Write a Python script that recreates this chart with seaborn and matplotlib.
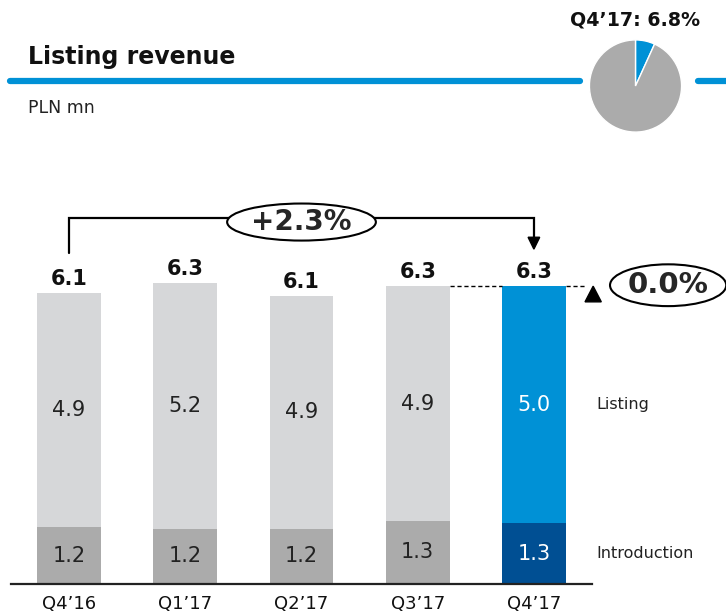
import matplotlib
matplotlib.use("Agg")
import matplotlib.pyplot as plt
import seaborn as sns
import pandas as pd
from matplotlib.patches import Ellipse, Polygon

# ---- data ----
quarters = ["Q4’16", "Q1’17", "Q2’17", "Q3’17", "Q4’17"]
introduction = [1.20, 1.16, 1.16, 1.33, 1.28]
listing = [4.92, 5.18, 4.91, 4.94, 4.99]
yoy_change = "+2.3%"
qoq_change = "0.0%"
pie_share = [6.8, 93.2]
pie_label = "Q4’17: 6.8%"

totals = [a + b for a, b in zip(introduction, listing)]

LIGHT = "#D6D7D9"
DARK = "#ABABAB"
BLUE = "#0091D6"
NAVY = "#004F93"
top_colors = [LIGHT, LIGHT, LIGHT, LIGHT, BLUE]
bot_colors = [DARK, DARK, DARK, DARK, NAVY]

sns.set_theme(style="white")
plt.rcParams["font.family"] = ["DejaVu Sans"]

W, H = 726, 613
fig = plt.figure(figsize=(W / 100, H / 100), dpi=100)

def fx(px):
    return px / W

def fy(py):
    return 1 - py / H

# main axes: x from px 11 to 592, baseline at py 584, 0..8 spanning 380 px
ax = fig.add_axes([fx(11), fy(584), fx(592) - fx(11), 380 / H])

df = pd.DataFrame({"quarter": quarters, "total": totals, "intro": introduction})
sns.barplot(data=df, x="quarter", y="total", hue="quarter", palette=top_colors,
            width=0.55, legend=False, ax=ax, saturation=1, edgecolor="none")
sns.barplot(data=df, x="quarter", y="intro", hue="quarter", palette=bot_colors,
            width=0.55, legend=False, ax=ax, saturation=1, edgecolor="none")

ax.set_ylim(0, 8)
ax.set_xlim(-0.5, 4.5)
ax.set_xlabel("")
ax.set_ylabel("")
ax.set_yticks([])
for s in ["top", "right", "left"]:
    ax.spines[s].set_visible(False)
ax.spines["bottom"].set_color("#222222")
ax.spines["bottom"].set_linewidth(1.6)
ax.tick_params(axis="x", length=0, pad=8, labelsize=13, labelcolor="#111111")
ax.set_xticks(range(len(quarters)))
ax.set_xticklabels(quarters)

for i in range(len(quarters)):
    seg_color = "white" if i == 4 else "#222222"
    ax.text(i, introduction[i] + listing[i] / 2, f"{listing[i]:.1f}", ha="center",
            va="center", fontsize=15, color=seg_color)
    ax.text(i, introduction[i] / 2, f"{introduction[i]:.1f}", ha="center",
            va="center", fontsize=15, color=seg_color)
    ax.annotate(f"{totals[i]:.1f}", (i, totals[i]), xytext=(0, 3),
                textcoords="offset points", ha="center", va="bottom",
                fontsize=15, fontweight="bold", color="#111111")

# side labels
ax.text(4.54, introduction[4] + listing[4] / 2, "Listing", ha="left", va="center",
        fontsize=11.5, color="#222222", clip_on=False)
ax.text(4.54, introduction[4] / 2, "Introduction", ha="left", va="center",
        fontsize=11.5, color="#222222", clip_on=False)

# bracket with +2.3%
yb = 7.7
ax.plot([0, 0, 4, 4], [6.97, yb, yb, 7.25], color="black", lw=1.6,
        clip_on=False, solid_joinstyle="miter")
ax.add_patch(Polygon([[3.95, 7.30], [4.05, 7.30], [4.0, 7.05]], closed=True,
                     color="black", clip_on=False))
ax.add_patch(Ellipse((2.0, 7.62), 1.28, 0.78, facecolor="white",
                     edgecolor="black", lw=1.5, clip_on=False, zorder=5))
ax.text(2.0, 7.62, yoy_change, ha="center", va="center", fontsize=20,
        fontweight="bold", zorder=6, clip_on=False)

# dashed q/q reference
ax.plot([3.275, 3.725], [totals[3], totals[3]], color="black", lw=1,
        ls=(0, (3, 2)), clip_on=False)
ax.plot([4.275, 4.44], [totals[4], totals[4]], color="black", lw=1,
        ls=(0, (3, 2)), clip_on=False)
ax.add_patch(Polygon([[4.44, totals[4] - 0.33], [4.58, totals[4] - 0.33],
                      [4.51, totals[4]]], closed=True,
                     color="black", clip_on=False))
ax.add_patch(Ellipse((5.155, 6.29), 1.0, 0.88, facecolor="white",
                     edgecolor="black", lw=1.5, clip_on=False, zorder=5))
ax.text(5.155, 6.29, qoq_change, ha="center", va="center", fontsize=21,
        fontweight="bold", zorder=6, clip_on=False)

# header
fig.text(fx(28), fy(57), "Listing revenue", ha="left", va="center",
         fontsize=17, fontweight="bold", color="#111111")
fig.text(fx(28), fy(108), "PLN mn", ha="left", va="center", fontsize=12.5,
         color="#222222")
fig.add_artist(plt.Line2D([fx(10), fx(580)], [fy(81), fy(81)], color=BLUE, lw=4.5))
fig.add_artist(plt.Line2D([fx(698), fx(726)], [fy(81), fy(81)], color=BLUE, lw=4.5))

# pie
size = 94
pax = fig.add_axes([fx(635.5 - size / 2), fy(86 + size / 2), size / W, size / H])
pax.pie(pie_share, colors=[BLUE, "#ABABAB"], startangle=90, counterclock=False,
        wedgeprops=dict(edgecolor="white", linewidth=1))
pax.set_xlim(-1.02, 1.02)
pax.set_ylim(-1.02, 1.02)
pax.set_aspect("equal")
pax.axis("off")
fig.text(fx(635), fy(20), pie_label, ha="center", va="center", fontsize=13.7,
         fontweight="bold", color="#111111")

fig.savefig("out.png", dpi=100)
